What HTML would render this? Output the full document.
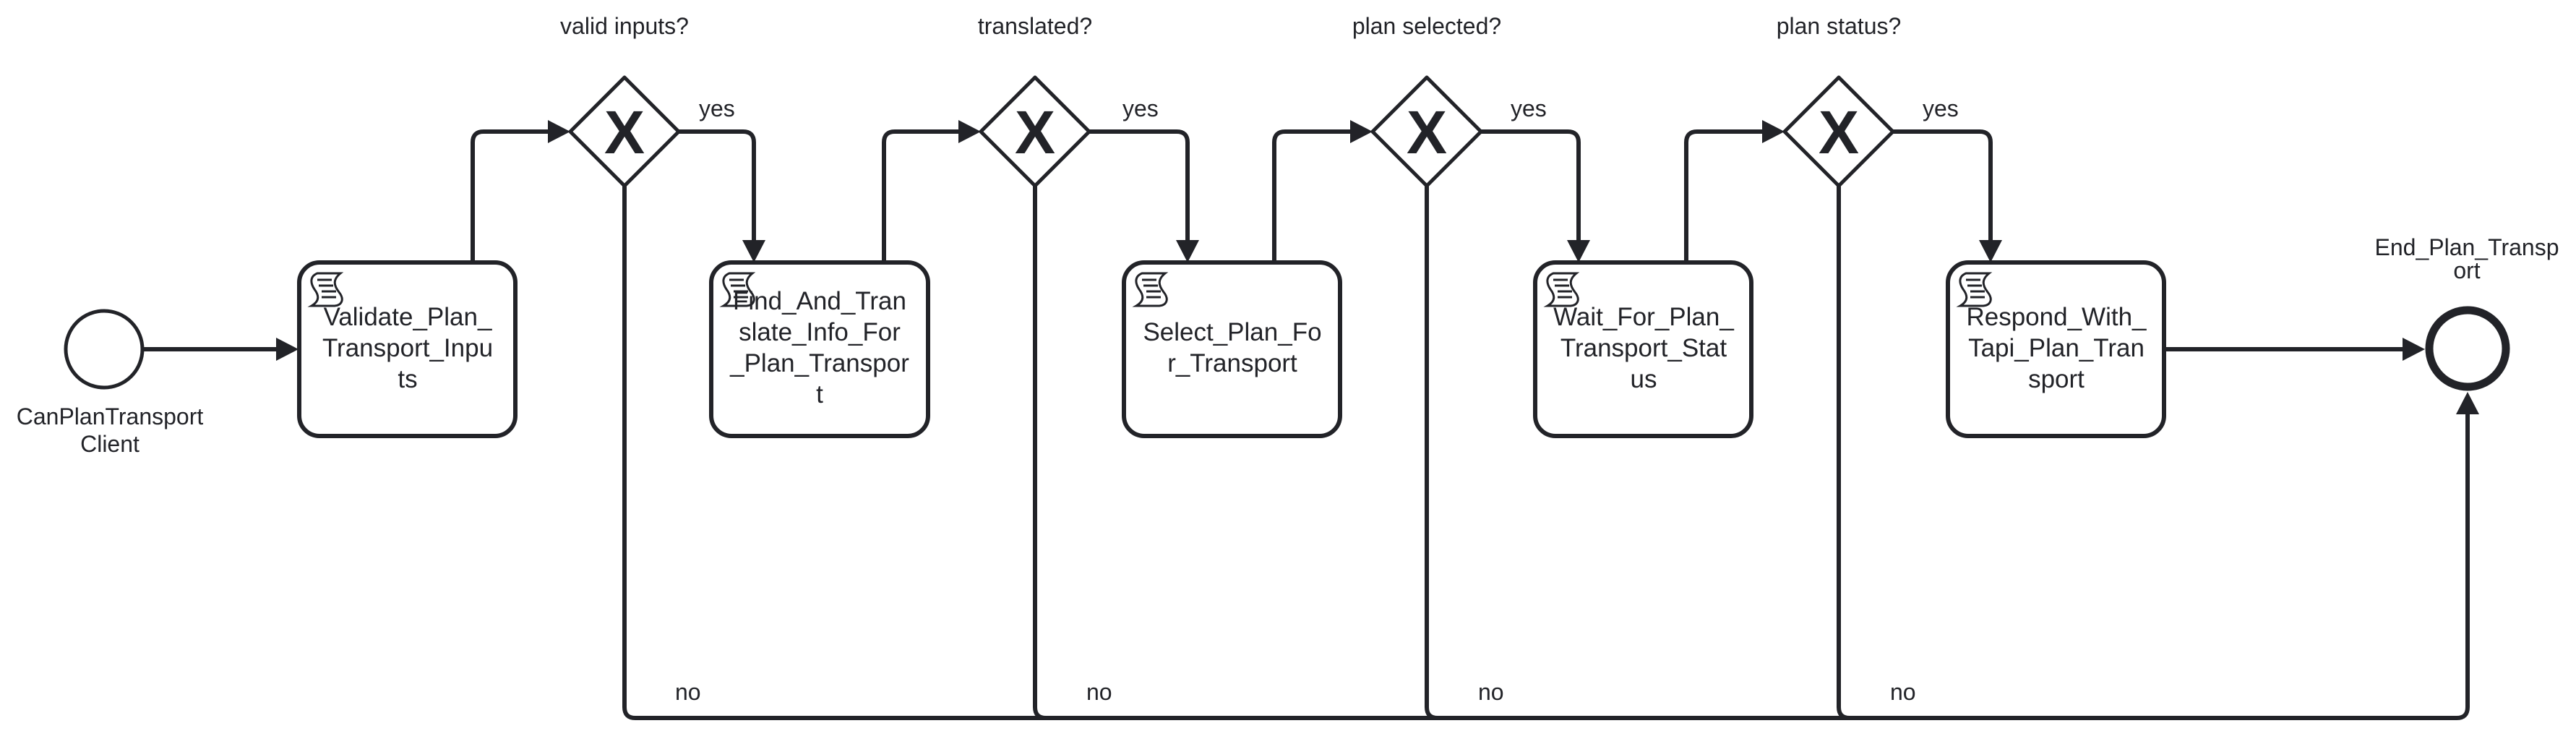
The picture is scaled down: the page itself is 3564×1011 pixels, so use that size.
<!DOCTYPE html>
<html><head><meta charset="utf-8"><style>
html,body{margin:0;padding:0;background:#fff;}
svg{display:block;}
text{font-family:"Liberation Sans",sans-serif;fill:#222328;}
</style></head><body>
<svg width="3564" height="1011" viewBox="0 0 3564 1011" xmlns="http://www.w3.org/2000/svg">
<defs>
<g id="scroll">
<path d="M8 0 H40 C30 8 30 16 38 26 C46 36 42 44 32 45 H0 C12 38 10 30 4 22 C-2 13 -2 4 8 0 Z" fill="#fff" stroke="#222328" stroke-width="3"/>
<path d="M8 9 H28 M10 17 H30 M14 25 H34 M14 33 H34" stroke="#222328" stroke-width="3"/>
</g>
</defs>
<g fill="none" stroke="#222328" stroke-width="6" stroke-linejoin="round">
<circle cx="144" cy="483" r="53" stroke-width="5"/>
<circle cx="3414" cy="482" r="53" stroke-width="11"/>
<rect x="414" y="363" width="299" height="240" rx="28"/>
<rect x="984" y="363" width="300" height="240" rx="28"/>
<rect x="1555" y="363" width="299" height="240" rx="28"/>
<rect x="2124" y="363" width="299" height="240" rx="28"/>
<rect x="2695" y="363" width="299" height="240" rx="28"/>
<path d="M864 107 L939 182 L864 257 L789 182 Z" stroke-width="5"/>
<path d="M1432 107 L1507 182 L1432 257 L1357 182 Z" stroke-width="5"/>
<path d="M1974 107 L2049 182 L1974 257 L1899 182 Z" stroke-width="5"/>
<path d="M2544 107 L2619 182 L2544 257 L2469 182 Z" stroke-width="5"/>
<path d="M197 483 H384"/>
<path d="M654 363 V197 Q654 182 669 182 H760"/>
<path d="M939 182 H1028 Q1043 182 1043 197 V334"/>
<path d="M1223 363 V197 Q1223 182 1238 182 H1328"/>
<path d="M1507 182 H1628 Q1643 182 1643 197 V334"/>
<path d="M1763 363 V197 Q1763 182 1778 182 H1870"/>
<path d="M2049 182 H2169 Q2184 182 2184 197 V334"/>
<path d="M2333 363 V197 Q2333 182 2348 182 H2440"/>
<path d="M2619 182 H2739 Q2754 182 2754 197 V334"/>
<path d="M2994 483 H3328"/>
<path d="M864 257 V978 Q864 993 879 993 H3399 Q3414 993 3414 978 V572"/>
<path d="M1432 257 V978 Q1432 993 1447 993"/>
<path d="M1974 257 V978 Q1974 993 1989 993"/>
<path d="M2544 257 V978 Q2544 993 2559 993"/>
</g>
<g fill="#222328">
<path d="M413 483 L382 467 L382 499 Z"/>
<path d="M789 182 L758 166 L758 198 Z"/>
<path d="M1357 182 L1326 166 L1326 198 Z"/>
<path d="M1899 182 L1868 166 L1868 198 Z"/>
<path d="M2469 182 L2438 166 L2438 198 Z"/>
<path d="M1043 363 L1027 332 L1059 332 Z"/>
<path d="M1643 363 L1627 332 L1659 332 Z"/>
<path d="M2184 363 L2168 332 L2200 332 Z"/>
<path d="M2754 363 L2738 332 L2770 332 Z"/>
<path d="M3355 483 L3324 467 L3324 499 Z"/>
<path d="M3414 542 L3398 573 L3430 573 Z"/>
</g>
<g font-size="84" font-weight="bold" text-anchor="middle">
<text x="864" y="212">X</text>
<text x="1432" y="212">X</text>
<text x="1974" y="212">X</text>
<text x="2544" y="212">X</text>
</g>
<use href="#scroll" x="431" y="378"/>
<use href="#scroll" x="1001" y="378"/>
<use href="#scroll" x="1572" y="378"/>
<use href="#scroll" x="2141" y="378"/>
<use href="#scroll" x="2712" y="378"/>
<g font-size="32" text-anchor="middle">
<text x="864" y="47">valid inputs?</text>
<text x="1432" y="47">translated?</text>
<text x="1974" y="47">plan selected?</text>
<text x="2544" y="47">plan status?</text>
<text x="152" y="587">CanPlanTransport</text>
<text x="152" y="625">Client</text>
<text x="3413" y="353">End_Plan_Transp</text>
<text x="3413" y="385">ort</text>
</g>
<g font-size="32">
<text x="967" y="161">yes</text>
<text x="1553" y="161">yes</text>
<text x="2090" y="161">yes</text>
<text x="2660" y="161">yes</text>
<text x="934" y="968">no</text>
<text x="1503" y="968">no</text>
<text x="2045" y="968">no</text>
<text x="2615" y="968">no</text>
</g>
<g font-size="35" text-anchor="middle">
<text x="564" y="450">Validate_Plan_</text>
<text x="564" y="493">Transport_Inpu</text>
<text x="564" y="536">ts</text>
<text x="1134" y="428">Find_And_Tran</text>
<text x="1134" y="471">slate_Info_For</text>
<text x="1134" y="514">_Plan_Transpor</text>
<text x="1134" y="557">t</text>
<text x="1705" y="471">Select_Plan_Fo</text>
<text x="1705" y="514">r_Transport</text>
<text x="2274" y="450">Wait_For_Plan_</text>
<text x="2274" y="493">Transport_Stat</text>
<text x="2274" y="536">us</text>
<text x="2845" y="450">Respond_With_</text>
<text x="2845" y="493">Tapi_Plan_Tran</text>
<text x="2845" y="536">sport</text>
</g>
</svg>
</body></html>
